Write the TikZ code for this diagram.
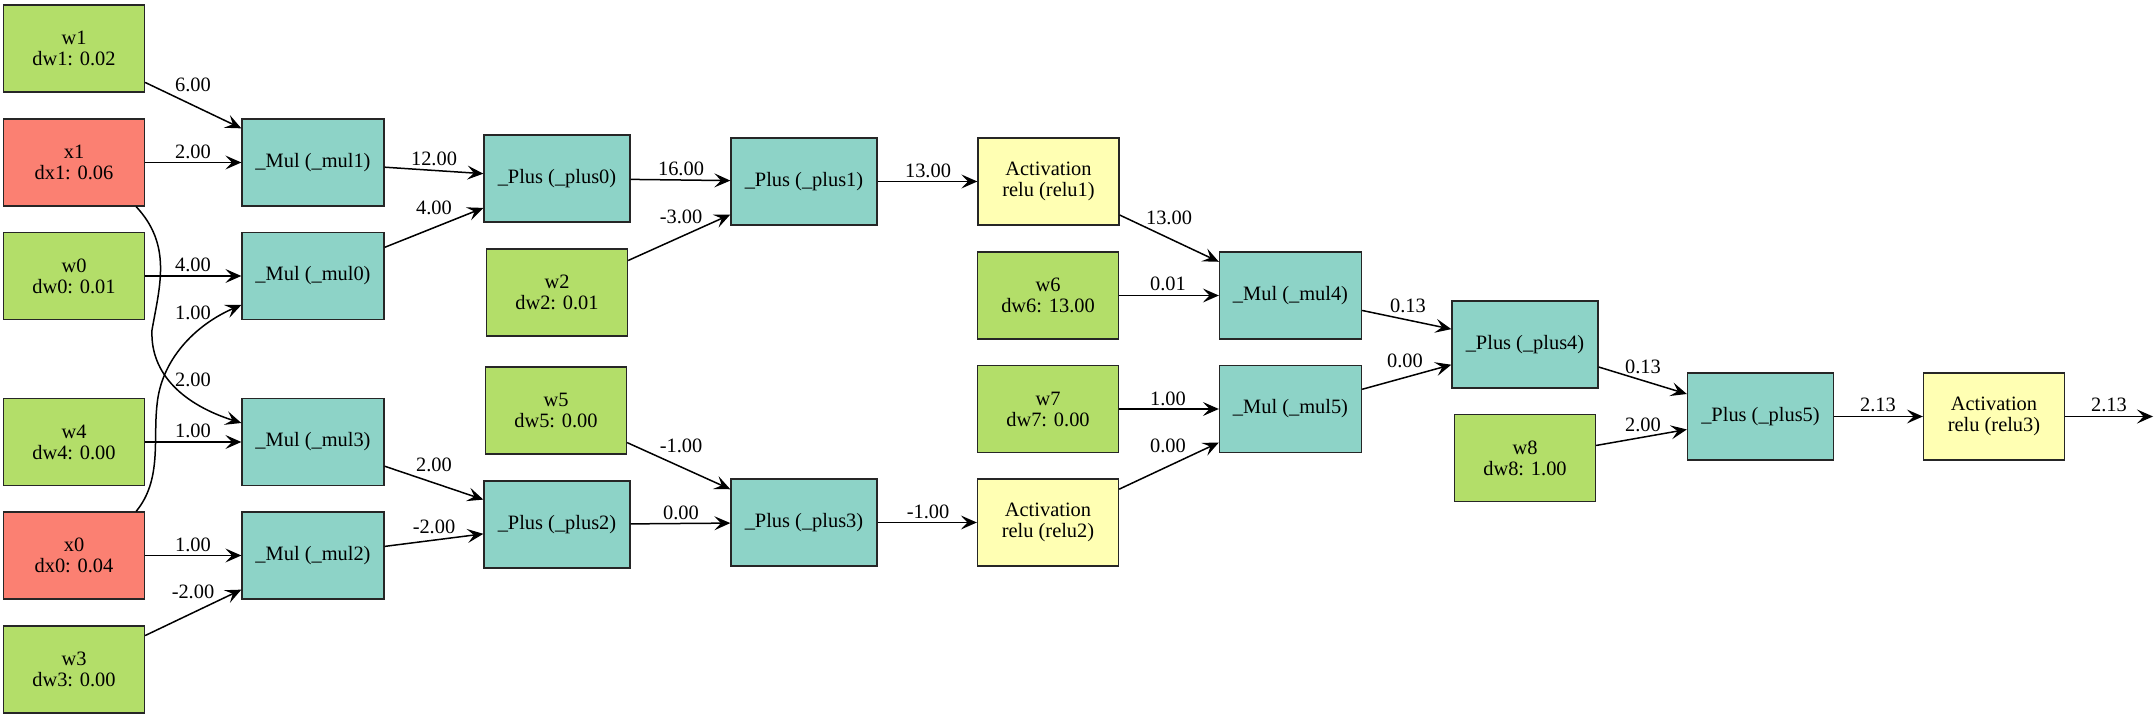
\documentclass[tikz,border=0pt]{standalone}
\usepackage{fontspec}
\setmainfont{Liberation Serif}
\usetikzlibrary{arrows.meta}

\definecolor{wgreen}{HTML}{B3DE69}
\definecolor{xred}{HTML}{FB8072}
\definecolor{opteal}{HTML}{8DD3C7}
\definecolor{actyellow}{HTML}{FFFFB3}

\begin{document}
\begin{tikzpicture}[x=0.5pt, y=-0.5pt]
    % Node styles
    \tikzset{
      box node/.style={draw=black!85, line width=0.65pt, minimum height=43.5pt,
        minimum width=70.5pt, inner sep=1pt, align=center,
        font=\fontsize{10.2}{10.5}\selectfont},
      weight node/.style={box node, fill=wgreen},
      input node/.style={box node, fill=xred},
      mul node/.style={box node, fill=opteal, minimum width=71pt},
      plus node/.style={box node, fill=opteal, minimum width=73pt},
      act node/.style={box node, fill=actyellow},
      wire/.style={-{Stealth[length=8pt, width=7pt, inset=3.3pt]}, line width=0.75pt},
      edge label/.style={font=\fontsize{10.2}{10.5}\selectfont, inner sep=0pt}
    }
    \useasboundingbox (0,0) rectangle (2154,716);

    % --- Leaf values: weights and inputs ---
    \node[weight node] (w1) at (74, 48.5) {w1\\dw1: 0.02};
    \node[input node]  (x1) at (74, 162.5) {x1\\dx1: 0.06};
    \node[weight node] (w0) at (74, 276) {w0\\dw0: 0.01};
    \node[weight node] (w4) at (74, 442) {w4\\dw4: 0.00};
    \node[input node]  (x0) at (74, 555.5) {x0\\dx0: 0.04};
    \node[weight node] (w3) at (74, 669.5) {w3\\dw3: 0.00};

    % --- First products ---
    \node[mul node] (mul1) at (313, 162.5) {\_Mul (\_mul1)};
    \node[mul node] (mul0) at (313, 276) {\_Mul (\_mul0)};
    \node[mul node] (mul3) at (313, 442) {\_Mul (\_mul3)};
    \node[mul node] (mul2) at (313, 555.5) {\_Mul (\_mul2)};

    % --- Sums ---
    \node[plus node]   (plus0) at (557, 178.5) {\_Plus (\_plus0)};
    \node[weight node] (w2)    at (557, 292.5) {w2\\dw2: 0.01};
    \node[weight node] (w5)    at (556, 410.5) {w5\\dw5: 0.00};
    \node[plus node]   (plus2) at (557, 524.5) {\_Plus (\_plus2)};
    \node[plus node]   (plus1) at (804, 181.5) {\_Plus (\_plus1)};
    \node[plus node]   (plus3) at (804, 522.5) {\_Plus (\_plus3)};

    % --- Activations and second layer ---
    \node[act node]    (relu1) at (1048.5, 181.5) {Activation\\relu (relu1)};
    \node[weight node] (w6)    at (1048, 295.5) {w6\\dw6: 13.00};
    \node[weight node] (w7)    at (1048, 409) {w7\\dw7: 0.00};
    \node[act node]    (relu2) at (1048, 522.5) {Activation\\relu (relu2)};
    \node[mul node]    (mul4)  at (1290.5, 295.5) {\_Mul (\_mul4)};
    \node[mul node]    (mul5)  at (1290.5, 409) {\_Mul (\_mul5)};
    \node[plus node]   (plus4) at (1525, 344.5) {\_Plus (\_plus4)};
    \node[weight node] (w8)    at (1525, 458) {w8\\dw8: 1.00};
    \node[plus node]   (plus5) at (1760.5, 416.5) {\_Plus (\_plus5)};
    \node[act node]    (relu3) at (1994, 416.5) {Activation\\relu (relu3)};
    \coordinate (out) at (2153, 416.5);

    % --- Edges into the first products ---
    \draw[wire] (w1) -- (mul1) node[edge label] (l1) at (193, 85) {6.00};
    \draw[wire] (x1) -- (mul1) node[edge label] (l2) at (193, 152) {2.00};
    \draw[wire] (w0) -- (mul0) node[edge label] (l3) at (193, 265) {4.00};
    % crossing curves (x0 up to mul0, x1 down to mul3)
    \draw[wire] ([xshift=-4.5pt]x0.north east) .. controls (162, 480) and (153, 440) .. (157, 405)
      .. controls (161, 360) and (195, 325) .. ([yshift=-14.5pt]mul0.west)
      node[edge label] (l4) at (193, 313) {1.00};
    \draw[wire] ([xshift=-4.5pt]x1.south east) .. controls (172, 245) and (160, 285) .. (152, 330)
      .. controls (150, 375) and (185, 405) .. ([yshift=9.5pt]mul3.west)
      node[edge label] (l5) at (193, 380) {2.00};
    \draw[wire] (w4) -- (mul3) node[edge label] (l6) at (193, 431) {1.00};
    \draw[wire] (x0) -- (mul2) node[edge label] (l7) at (193, 545) {1.00};
    \draw[wire] (w3) -- (mul2) node[edge label] (l8) at (193, 592) {-2.00};

    % --- Edges into the sums ---
    \draw[wire] (mul1) -- (plus0) node[edge label] (l9) at (434, 159) {12.00};
    \draw[wire] (mul0) -- (plus0) node[edge label] (l10) at (434, 208) {4.00};
    \draw[wire] (mul3) -- (plus2) node[edge label] (l11) at (434, 465) {2.00};
    \draw[wire] (mul2) -- (plus2) node[edge label] (l12) at (434, 527) {-2.00};
    \draw[wire] (plus0) -- (plus1) node[edge label] (l13) at (681, 169) {16.00};
    \draw[wire] (w2) -- (plus1) node[edge label] (l14) at (681, 217) {-3.00};
    \draw[wire] (w5) -- (plus3) node[edge label] (l15) at (681, 446) {-1.00};
    \draw[wire] (plus2) -- (plus3) node[edge label] (l16) at (681, 513) {0.00};

    % --- Activations, second products, output ---
    \draw[wire] (plus1) -- (relu1) node[edge label] (l17) at (928, 171) {13.00};
    \draw[wire] (plus3) -- (relu2) node[edge label] (l18) at (928, 512) {-1.00};
    \draw[wire] (relu1) -- (mul4) node[edge label] (l19) at (1169, 218) {13.00};
    \draw[wire] (w6) -- (mul4) node[edge label] (l20) at (1168, 284) {0.01};
    \draw[wire] (w7) -- (mul5) node[edge label] (l21) at (1168, 399) {1.00};
    \draw[wire] (relu2) -- (mul5) node[edge label] (l22) at (1168, 446) {0.00};
    \draw[wire] (mul4) -- (plus4) node[edge label] (l23) at (1408, 306) {0.13};
    \draw[wire] (mul5) -- (plus4) node[edge label] (l24) at (1405, 361) {0.00};
    \draw[wire] (plus4) -- (plus5) node[edge label] (l25) at (1643, 367) {0.13};
    \draw[wire] (w8) -- (plus5) node[edge label] (l26) at (1643, 425) {2.00};
    \draw[wire] (plus5) -- (relu3) node[edge label] (l27) at (1878, 405) {2.13};
    \draw[wire] (relu3) -- (out) node[edge label] (l28) at (2109, 405) {2.13};

\end{tikzpicture}
\end{document}
